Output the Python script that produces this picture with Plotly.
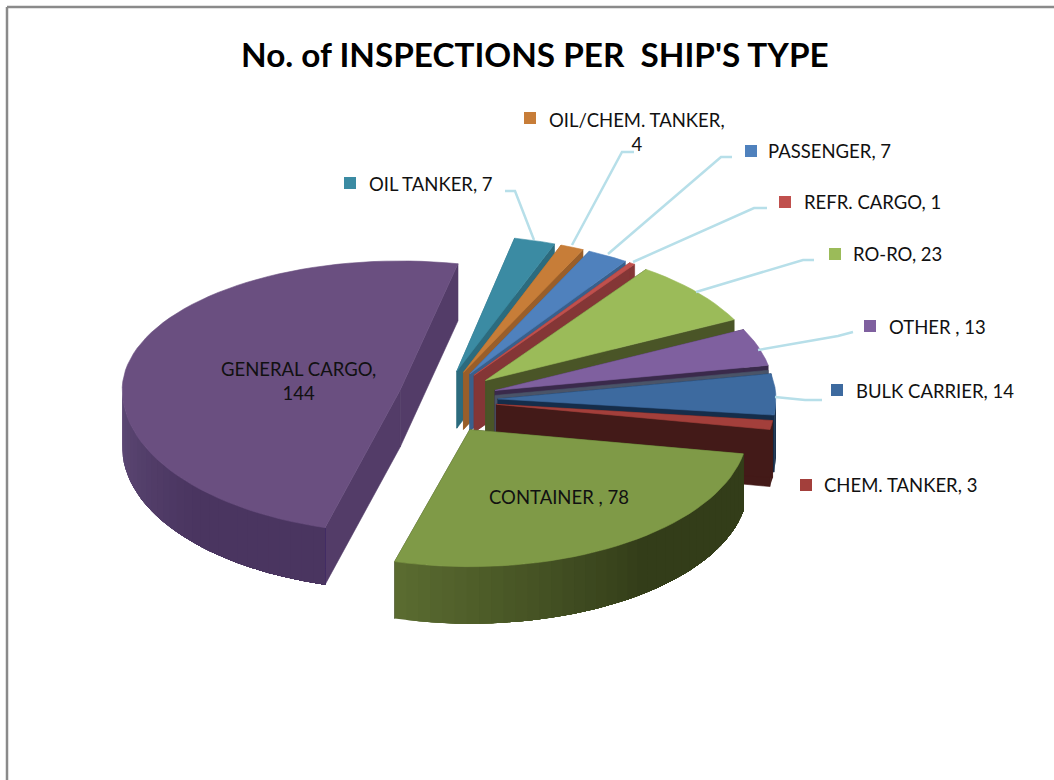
"""No. of inspections per ship's type, drawn as an exploded 3D-looking pie."""
import math
import plotly.graph_objects as go

# slices, counter-clockwise from the general cargo cut
categories = ['GENERAL CARGO', 'CONTAINER ', 'CHEM. TANKER', 'BULK CARRIER', 'OTHER ',
              'RO-RO', 'REFR. CARGO', 'PASSENGER', 'OIL/CHEM. TANKER', 'OIL TANKER']
values = [144, 78, 3, 14, 13, 23, 1, 7, 4, 7]

# how far each slice is pulled out, sideways and up/down
pulls = [41, 56, 57, 58, 58, 60, 60, 60, 60, 60]
pulls_y = [42, 35, 30, 30, 30, 30, 30, 30, 30, 30]
# fake perspective: radius of the back and the front of each slice
ry_back = [129, 136, 136, 136, 136, 136, 136, 136, 136, 136]
ry_front = [143, 137, 143, 143, 143, 143, 143, 143, 143, 143]

top_colors = ['#6a4f80', '#7f9a47', '#a33f3b', '#3d6a9f', '#7f609f',
              '#9bbb59', '#c0504d', '#4f81bd', '#c77d38', '#3b8ba3']
rim_start = ['#5e4a76', '#5a6b30', '#431a18', '#152d4a', '#3a2a4b',
             '#4a5527', '#843636', '#39608c', '#995e2a', '#2c6b7e']
rim_end = ['#4a3560', '#333d19', '#431a18', '#152d4a', '#3a2a4b',
           '#4a5527', '#843636', '#39608c', '#995e2a', '#2c6b7e']
cut_colors = ['#533c68', '#333d19', '#431a18', '#152d4a', '#3a2a4b',
              '#4a5527', '#843636', '#39608c', '#995e2a', '#2c6b7e']
# grey strip under the purple OTHER slice
cut_lower = {'OTHER ': '#4a5468'}

# back slices first so the front ones cover them
draw_order = [9, 8, 7, 6, 5, 4, 3, 2, 1, 0]

CENTER_X, CENTER_Y = 440, 400
RX = 278
DEPTH = 57
START_ANGLE = 78

# label placement: x, y of the text, swatch centre
label_pos = {
    'OIL TANKER': (367, 184, 350, 183),
    'OIL/CHEM. TANKER': (637, 132, 530, 118),
    'PASSENGER': (766, 151, 751, 151),
    'REFR. CARGO': (802, 202, 785, 202),
    'RO-RO': (851, 254, 835, 254),
    'OTHER ': (887, 327, 870, 326),
    'BULK CARRIER': (854, 391, 837, 390),
    'CHEM. TANKER': (822, 485, 806, 485),
    'GENERAL CARGO': (298, 381, None, None),
    'CONTAINER ': (559, 497, None, None),
}
wrapped = ['GENERAL CARGO', 'OIL/CHEM. TANKER']

leaders = [
    [(505, 191), (515, 191), (534, 240)],
    [(634, 152), (622, 152), (572, 245)],
    [(732, 157), (721, 157), (608, 254)],
    [(767, 208), (754, 208), (633, 262)],
    [(814, 260), (803, 260), (696, 292)],
    [(853, 332), (838, 336), (758, 350)],
    [(822, 400), (805, 400), (775, 397)],
]


def mix(c1, c2, t):
    a = [int(c1[i:i + 2], 16) for i in (1, 3, 5)]
    b = [int(c2[i:i + 2], 16) for i in (1, 3, 5)]
    return 'rgb(%d,%d,%d)' % tuple(round(p + (q - p) * t) for p, q in zip(a, b))


def rim_point(i, ax, ay, deg):
    s = math.sin(math.radians(deg))
    ry = ry_back[i] if s > 0 else ry_front[i]
    return ax + RX * math.cos(math.radians(deg)), ay - ry * s


def poly(fig, pts, color, name=None, edge=0.6):
    fig.add_trace(go.Scatter(
        x=[p[0] for p in pts] + [pts[0][0]],
        y=[p[1] for p in pts] + [pts[0][1]],
        mode='lines', fill='toself', fillcolor=color,
        line=dict(color=color, width=edge),
        hoverinfo='text' if name else 'skip', text=name, showlegend=False
    ))


fig = go.Figure()

total = sum(values)
spans = []
angle = START_ANGLE
for v in values:
    spans.append((angle, angle + v / total * 360))
    angle = spans[-1][1]

for i in draw_order:
    a0, a1 = spans[i]
    mid = math.radians((a0 + a1) / 2)
    ax = CENTER_X + pulls[i] * math.cos(mid)
    ay = CENTER_Y - pulls_y[i] * math.sin(mid)

    steps = max(2, int((a1 - a0) / 2.5))
    arc = [rim_point(i, ax, ay, a0 + (a1 - a0) * k / steps) for k in range(steps + 1)]

    # cut faces
    for end in (arc[0], arc[-1]):
        poly(fig, [(ax, ay), end, (end[0], end[1] + DEPTH), (ax, ay + DEPTH)], cut_colors[i])
    if categories[i] in cut_lower:
        end = arc[0]
        poly(fig, [(ax, ay + 5), (end[0], end[1] + 5), (end[0], end[1] + DEPTH), (ax, ay + DEPTH)],
             cut_lower[categories[i]])

    # outer wall, only the part facing the viewer; each band runs on to the
    # end of the arc and the next one paints over it, so no seams show
    front = [k for k in range(steps)
             if math.sin(math.radians(a0 + (a1 - a0) * (k + 0.5) / steps)) < 0]
    for n, k in enumerate(front):
        rest = arc[k:front[-1] + 2]
        outline = rest + [(p[0], p[1] + DEPTH) for p in reversed(rest)]
        poly(fig, outline, mix(rim_start[i], rim_end[i], min(1, n / len(front) * 1.8)), edge=0)

    # top face
    poly(fig, [(ax, ay)] + arc, top_colors[i], f'{categories[i]}: {values[i]}')

shapes = [
    dict(type='line', x0=7, x1=1054, y0=7, y1=7, line=dict(color='#8a8a8a', width=2.5)),
    dict(type='line', x0=7, x1=7, y0=7, y1=780, line=dict(color='#8a8a8a', width=2.5)),
]
for line in leaders:
    path = 'M ' + ' L '.join(f'{x} {y}' for x, y in line)
    shapes.append(dict(type='path', path=path, line=dict(color='#b7dfe9', width=2.5)))

annotations = []
for i, cat in enumerate(categories):
    tx, ty, sx, sy = label_pos[cat]
    sep = ',<br>' if cat in wrapped else ', '
    annotations.append(dict(
        x=tx, y=ty, xref='x', yref='y', text=f'{cat}{sep}{values[i]}', showarrow=False,
        xanchor='center' if cat in wrapped or sx is None else 'left', yanchor='middle',
        align='center', font=dict(family='Lato', size=18.5, color='#111111')
    ))
    if sx is not None:
        shapes.append(dict(type='rect', x0=sx - 6, x1=sx + 6, y0=sy - 6, y1=sy + 6,
                           fillcolor=top_colors[i], line=dict(width=0)))

annotations.append(dict(
    x=535, y=54, xref='x', yref='y', text="<b>No. of INSPECTIONS PER  SHIP'S TYPE</b>",
    showarrow=False, xanchor='center', yanchor='middle',
    font=dict(family='Lato', size=33.3, color='#000000')
))

fig.update_layout(
    width=1054, height=780,
    margin=dict(l=0, r=0, t=0, b=0),
    paper_bgcolor='white', plot_bgcolor='white',
    xaxis=dict(range=[0, 1054], visible=False, fixedrange=True),
    yaxis=dict(range=[780, 0], visible=False, fixedrange=True),
    shapes=shapes, annotations=annotations, showlegend=False
)

fig.write_html("out.html", config={'displayModeBar': False},
               post_script="document.body.style.margin='0';")
